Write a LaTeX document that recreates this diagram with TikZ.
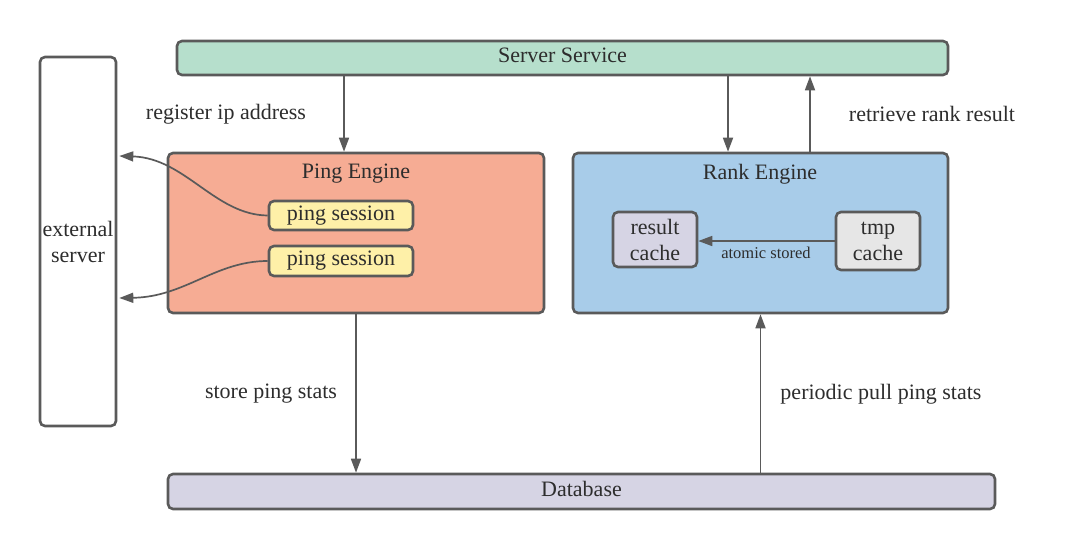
\documentclass[tikz,border=0pt]{standalone}
\usepackage{fontspec}
\setmainfont{Liberation Serif}
\usetikzlibrary{arrows.meta}
\definecolor{bord}{RGB}{90,90,90}
\definecolor{txt}{RGB}{45,45,45}
\definecolor{srvfill}{RGB}{182,223,204}
\definecolor{pingfill}{RGB}{246,172,148}
\definecolor{rankfill}{RGB}{168,204,233}
\definecolor{sessfill}{RGB}{254,240,168}
\definecolor{lavfill}{RGB}{214,212,228}
\definecolor{grayfill}{RGB}{230,230,230}
\tikzset{
  box/.style={draw=bord, line width=2.6pt, rounded corners=5pt, inner sep=0pt, align=center, text=txt, font=\fontsize{22}{26}\selectfont},
  arr/.style={draw=bord, line width=1.7pt, -{Triangle[length=14pt,width=10pt]}},
  lbl/.style={text=txt, font=\fontsize{22}{26}\selectfont, inner sep=0pt},
}
\begin{document}
\begin{tikzpicture}[x=1pt,y=-1pt]
\useasboundingbox (0,0) rectangle (1068,549);
\node[box, fill=srvfill, minimum width=771pt, minimum height=34pt] (srv) at (562.5,58) {};
\node[lbl] (srvt) at (562.5,55) {Server Service};
\node[box, fill=white, minimum width=76pt, minimum height=369pt] (ext) at (78,241.5) {external\\server};
\node[box, fill=pingfill, minimum width=376pt, minimum height=160pt] (ping) at (356,233) {};
\node[lbl] (pingt) at (356,174) {Ping Engine};
\node[box, fill=sessfill, minimum width=144pt, minimum height=29pt] (ps1) at (341,215.5) {ping session};
\node[box, fill=sessfill, minimum width=144pt, minimum height=30pt] (ps2) at (341,261) {ping session};
\node[box, fill=rankfill, minimum width=375pt, minimum height=160pt] (rank) at (760.5,233) {};
\node[lbl] (rankt) at (760,174) {Rank Engine};
\node[box, fill=lavfill, minimum width=84pt, minimum height=55pt] (res) at (655,239.5) {result\\cache};
\node[box, fill=grayfill, minimum width=84pt, minimum height=58pt] (tmp) at (878,241) {tmp\\cache};
\node[box, fill=lavfill, minimum width=827pt, minimum height=35pt] (db) at (581.5,491.5) {};
\node[lbl] (dbt) at (581.5,489) {Database};

\draw[arr] ([xshift=-12pt]ping.north |- srv.south) -- ([xshift=-12pt]ping.north);
\draw[arr] ([xshift=-32.5pt]rank.north |- srv.south) -- ([xshift=-32.5pt]rank.north);
\draw[arr] ([xshift=49.5pt]rank.north) -- ([xshift=49.5pt]rank.north |- srv.south);
\draw[arr] (ping.south) -- (ping.south |- db.north);
\draw[arr] (rank.south |- db.north) -- (rank.south);
\draw[arr] (tmp.west) -- (tmp.west -| res.east);
\coordinate (e1) at ([yshift=85.5pt,xshift=2pt]ext.east);
\coordinate (e2) at ([yshift=-56.5pt,xshift=2pt]ext.east);
\draw[arr] (ps1.west) .. controls (215,215) and (185,158) .. (e1);
\draw[arr] (ps2.west) .. controls (215,261) and (185,297) .. (e2);

\node[lbl] (l1) at (226,114) {register ip address};
\node[lbl] (l2) at (932,114) {retrieve rank result};
\node[lbl] (l3) at (271,394) {store ping stats};
\node[lbl] (l4) at (881,394) {periodic pull ping stats};
\node[lbl, font=\fontsize{16.5}{19}\selectfont] (l5) at (766,253) {atomic stored};
\end{tikzpicture}
\end{document}
